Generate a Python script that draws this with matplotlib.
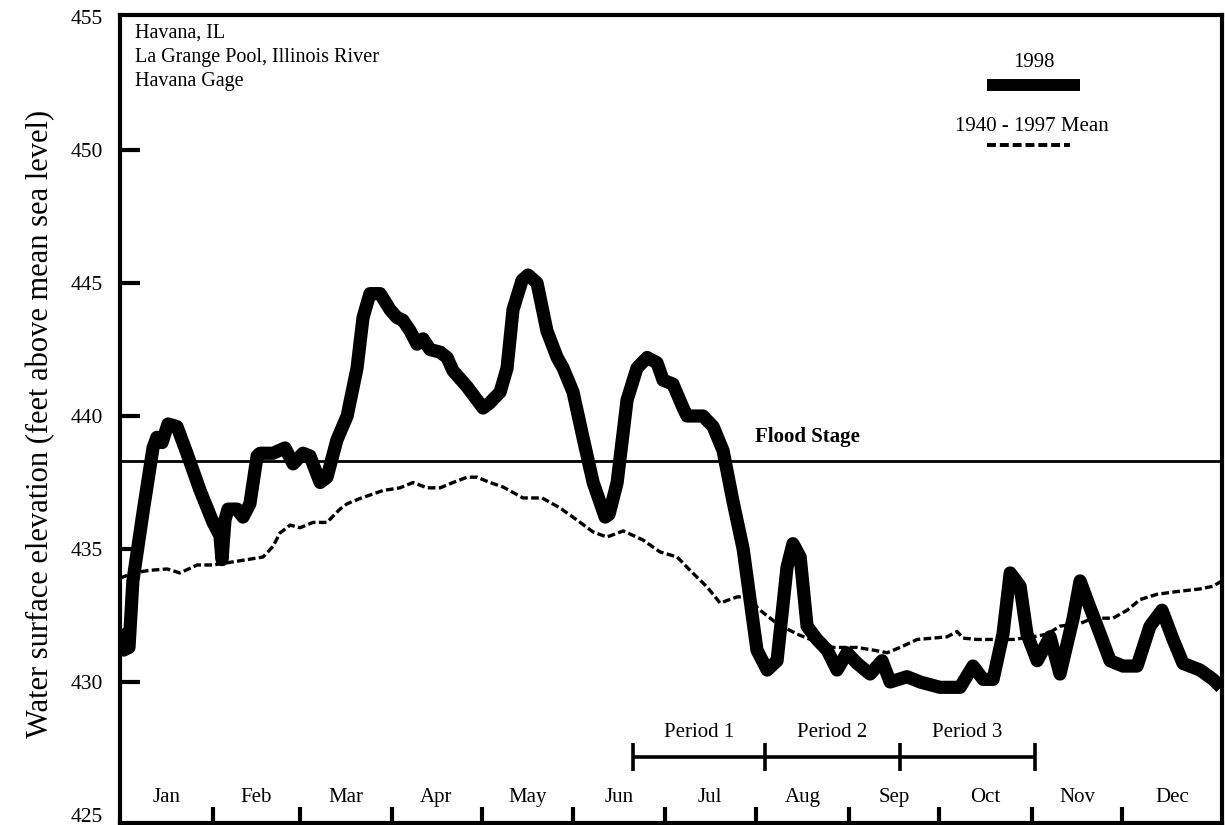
import matplotlib
matplotlib.use("Agg")
import matplotlib.pyplot as plt

plt.rcParams["font.family"] = ["Liberation Serif", "DejaVu Serif"]

# ── Data (day of year, water elevation in ft) ─────────────────
days_1998 = [0.3, 1.2, 3, 4.3, 7.7, 11, 12.3, 14, 16, 19, 22.3, 26.7, 31, 33.3, 34,
             35, 36, 39, 41, 43.3, 45.7, 46.7, 51, 55, 57.7, 61, 63.3, 66.7, 69,
             72.3, 75.7, 79, 81, 83.3, 86.7, 90, 92.3, 94.3, 96.7, 99, 101, 103.3,
             106.7, 109, 111, 115.7, 121, 123.3, 126.7, 129, 131, 134, 136, 139,
             142.3, 145.7, 147.7, 151, 154.3, 157.7, 161.7, 163, 165.7, 169, 172.3,
             175.7, 179, 181, 184.3, 187.7, 189, 194.3, 197.7, 201, 204.3, 207.7,
             210, 212.3, 215.7, 219, 222.3, 224.3, 226.7, 229, 232.3, 235.7, 239,
             242.3, 245.7, 250, 254, 256.7, 262.3, 266.7, 273.3, 280, 284.3, 287.7,
             291, 294.3, 296.7, 300, 302.3, 305.7, 310, 313.3, 317.7, 320, 323.3,
             326.7, 330, 334.3, 339, 343.3, 347.3, 351, 354.3, 360, 364.3, 367]
elev_1998 = [432.0, 431.2, 431.3, 433.8, 436.4, 438.8, 439.2, 439.0, 439.7, 439.6,
             438.6, 437.2, 436.0, 435.5, 434.6, 436.1, 436.5, 436.5, 436.2, 436.7,
             438.5, 438.6, 438.6, 438.8, 438.2, 438.6, 438.5, 437.5, 437.7, 439.1,
             440.0, 441.8, 443.7, 444.6, 444.6, 444.0, 443.7, 443.6, 443.2, 442.7,
             442.9, 442.5, 442.4, 442.2, 441.7, 441.1, 440.3, 440.5, 440.9, 441.8,
             444.0, 445.1, 445.3, 445.0, 443.2, 442.2, 441.8, 440.9, 439.2, 437.5,
             436.2, 436.3, 437.5, 440.6, 441.8, 442.2, 442.0, 441.35, 441.2, 440.3,
             440.0, 440.0, 439.6, 438.7, 436.8, 435.0, 433.1, 431.2, 430.45, 430.8,
             434.3, 435.2, 434.7, 432.1, 431.6, 431.2, 430.45, 431.1, 430.7, 430.3,
             430.8, 430.0, 430.2, 430.0, 429.8, 429.8, 430.6, 430.1, 430.1, 431.8,
             434.1, 433.6, 431.8, 430.8, 431.7, 430.3, 432.4, 433.8, 432.8, 431.8,
             430.8, 430.6, 430.6, 432.1, 432.7, 431.6, 430.7, 430.45, 430.1, 429.8]

days_mean = [0, 4.3, 10, 15.7, 20, 25.7, 31, 36.7, 42.3, 47.7, 51, 53.3, 56.7, 60,
             64.3, 69, 73.3, 75.7, 80, 87.7, 93.3, 97.7, 102.3, 106.7, 111, 115.7,
             119, 123.3, 127.7, 134.3, 140.7, 146.7, 152.3, 157.7, 162.3, 167.7,
             174.3, 180, 185.7, 190, 195.7, 200, 205.7, 209, 213.3, 219, 225.7,
             232.3, 237.7, 245.7, 251, 255.7, 260, 265.7, 271, 275.7, 279, 281,
             285.7, 291, 297.7, 304.3, 309, 313.3, 320, 324.3, 331, 335.7, 340,
             345.7, 352.3, 360, 364.3, 367.3]
elev_mean = [433.9, 434.1, 434.2, 434.25, 434.1, 434.4, 434.4, 434.5, 434.6, 434.7,
             435.1, 435.6, 435.9, 435.8, 436.0, 436.0, 436.5, 436.7, 436.9, 437.2,
             437.3, 437.5, 437.3, 437.3, 437.5, 437.7, 437.7, 437.5, 437.33, 436.92,
             436.92, 436.54, 436.09, 435.64, 435.45, 435.68, 435.34, 434.89, 434.7,
             434.2, 433.57, 432.97, 433.2, 433.2, 432.7, 432.2, 431.8, 431.5, 431.3,
             431.3, 431.2, 431.1, 431.3, 431.6, 431.65, 431.7, 431.9, 431.65, 431.6,
             431.6, 431.6, 431.7, 431.8, 432.1, 432.2, 432.4, 432.4, 432.7, 433.1,
             433.3, 433.4, 433.5, 433.6, 433.8]

flood_stage = 438.3
months = ["Jan", "Feb", "Mar", "Apr", "May", "Jun",
          "Jul", "Aug", "Sep", "Oct", "Nov", "Dec"]
month_ends = [31, 60, 90.5, 120.5, 151, 181.5, 212, 243, 273, 304, 334, 367.3]
period_names = ["Period 1", "Period 2", "Period 3"]
period_edges = [171, 215, 260, 305]   # Jun 20, Aug 3, Sep 17, Nov 1
y_ticks = [425, 430, 435, 440, 445, 450, 455]

# ── Figure ────────────────────────────────────────────────────
fig = plt.figure(figsize=(12.25, 8.25), dpi=100)
ax = fig.add_axes([120 / 1225, 2 / 825, 1102 / 1225, 808 / 825])
ax.set_xlim(0, 367.3)
ax.set_ylim(424.7, 455.075)

for sp in ax.spines.values():
    sp.set_linewidth(3)

ax.plot(days_1998, elev_1998, color="black", lw=9.5,
        solid_joinstyle="round", solid_capstyle="butt")
ax.plot(days_mean, elev_mean, color="black", lw=2.4,
        linestyle=(0, (2.3, 1.0)))
ax.axhline(flood_stage, color="black", lw=2)
ax.text(211.7, 439.2, "Flood Stage", fontsize=15, fontweight="bold",
        ha="left", va="center")

# y axis
ax.set_yticks(y_ticks)
ax.set_yticklabels([str(v) for v in y_ticks])
ax.tick_params(axis="y", direction="in", length=14.5, width=3,
               labelsize=15.5, pad=12)
for t in (ax.yaxis.get_major_ticks()[0], ax.yaxis.get_major_ticks()[-1]):
    t.tick1line.set_visible(False)

# x axis: month boundaries as inward ticks, names inside the plot
ax.set_xticks(month_ends[:-1])
ax.set_xticklabels([])
ax.tick_params(axis="x", direction="in", length=11.5, width=3)
starts = [0] + month_ends[:-1]
for name, a, b in zip(months, starts, month_ends):
    ax.text((a + b) / 2, 425.67, name, fontsize=15, ha="center", va="center")

# period bar
ax.plot([period_edges[0], period_edges[-1]], [427.18, 427.18],
        color="black", lw=2.6, solid_capstyle="butt")
for e in period_edges:
    ax.plot([e, e], [426.65, 427.71], color="black", lw=2.6,
            solid_capstyle="butt")
for name, a, b in zip(period_names, period_edges[:-1], period_edges[1:]):
    ax.text((a + b) / 2, 428.1, name, fontsize=15, ha="center", va="center")

# site text
for i, line in enumerate(["Havana, IL", "La Grange Pool, Illinois River",
                          "Havana Gage"]):
    ax.text(0.0136, 0.9777 - i * 0.0303, line, transform=ax.transAxes,
            fontsize=14.5, ha="left", va="center")

# custom legend
ax.text(0.829, 0.9415, "1998", transform=ax.transAxes, fontsize=15,
        ha="center", va="center")
ax.plot([0.7868, 0.8711], [0.9134, 0.9134], transform=ax.transAxes,
        color="black", lw=8.6, solid_capstyle="butt")
ax.text(0.8276, 0.8626, "1940 - 1997 Mean", transform=ax.transAxes,
        fontsize=15, ha="center", va="center")
ax.plot([0.7868, 0.862], [0.8391, 0.8391], transform=ax.transAxes,
        color="black", lw=2.8, linestyle=(0, (2.3, 1.0)))

fig.text(0.033, 0.486, "Water surface elevation (feet above mean sea level)",
         rotation=90, fontsize=22, ha="center", va="center")

fig.savefig("out.png", dpi=100)
